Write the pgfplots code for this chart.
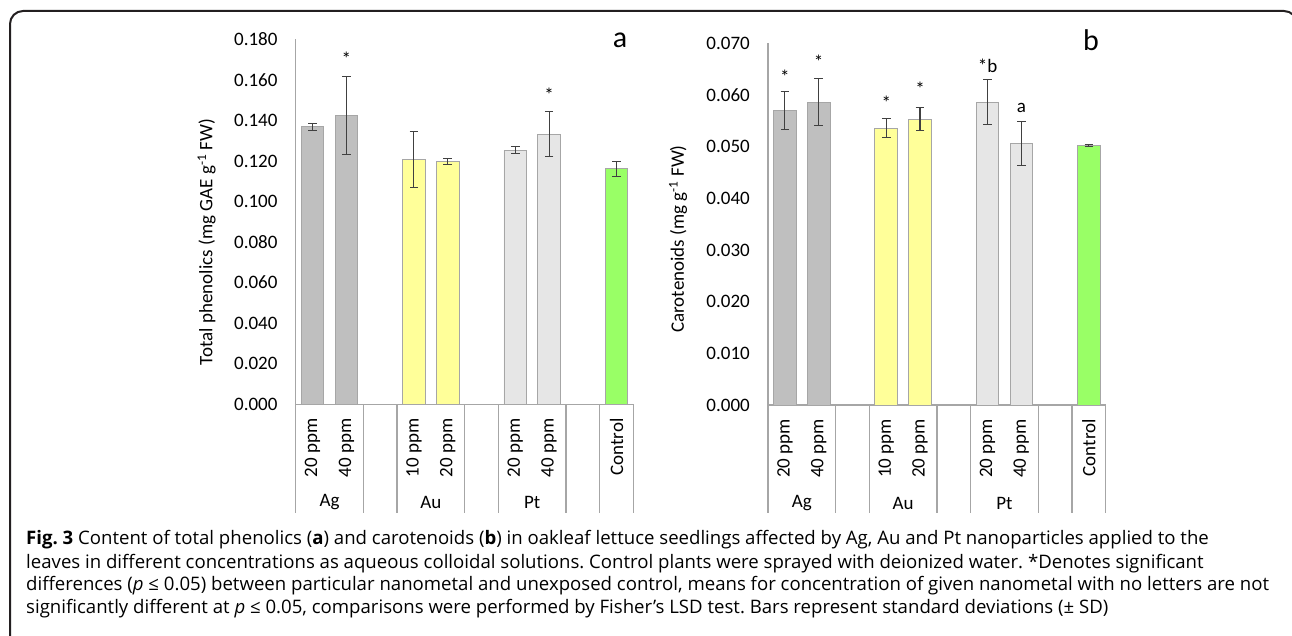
\documentclass[border=0pt]{standalone}
\usepackage{pgfplots}
\usepackage{pgfplotstable}
\pgfplotsset{compat=1.18}
\usepackage{fontspec}
\setmainfont{Carlito}
\newfontfamily\capfont{Open Sans}
\definecolor{agc}{HTML}{BFBFBF}
\definecolor{auc}{HTML}{FFFF99}
\definecolor{ptc}{HTML}{E6E6E6}
\definecolor{ctc}{HTML}{99FF66}
\definecolor{edge}{HTML}{A6A6A6}
\definecolor{errc}{HTML}{404040}
\definecolor{axc}{HTML}{A6A6A6}
\definecolor{framec}{HTML}{231F20}

% Panel a: total phenolics
\pgfplotstableread{
x y e
0 0.1368 0.0016
1 0.1425 0.0192
}\agA
\pgfplotstableread{
x y e
3 0.1208 0.0138
4 0.1198 0.0016
}\auA
\pgfplotstableread{
x y e
6 0.1254 0.0018
7 0.1332 0.0110
}\ptA
\pgfplotstableread{
x y e
9 0.1161 0.0038
}\ctA
% Panel b: carotenoids
\pgfplotstableread{
x y e
0 0.0570 0.0037
1 0.0586 0.0045
}\agB
\pgfplotstableread{
x y e
3 0.0536 0.0018
4 0.0553 0.0022
}\auB
\pgfplotstableread{
x y e
6 0.0586 0.0044
7 0.0506 0.0042
}\ptB
\pgfplotstableread{
x y e
9 0.0503 0.0002
}\ctB

\newcommand{\fs}{\fontsize{19}{22}\selectfont}
\newcommand{\cf}{\capfont\fontsize{18.6}{22}\selectfont}
\pgfplotsset{
  panel/.style={
    scale only axis, width=337.8pt,
    xmin=-0.5, xmax=9.5, ymin=0,
    axis x line*=bottom, axis y line*=left,
    axis line style={axc, line width=1.3pt},
    major tick length=0pt,
    xtick={0,1,3,4,6,7,9},
    xticklabels={20 ppm,40 ppm,10 ppm,20 ppm,20 ppm,40 ppm,Control},
    xticklabel style={rotate=90, anchor=east, inner sep=0pt, font=\fs},
    xticklabel shift=14pt,
    scaled y ticks=false,
    yticklabel style={inner sep=0pt, font=\fs,
      /pgf/number format/fixed, /pgf/number format/fixed zerofill,
      /pgf/number format/precision=3},
    yticklabel shift=18pt,
    /pgf/number format/assume math mode=true,
    ylabel style={font=\fs, anchor=center},
    clip=false,
  },
  bars/.style={ybar, bar width=0.67, bar shift=0pt, draw=edge, line width=0.9pt,
    error bars/y dir=both, error bars/y explicit,
    error bars/error bar style={errc, line width=1.1pt},
    error bars/error mark options={rotate=90, errc, mark size=4.3pt, line width=1.1pt}},
}

\begin{document}
\frenchspacing
\begin{tikzpicture}
\useasboundingbox (0,0) rectangle (1292pt,636pt);
\draw[framec, line width=2pt, rounded corners=13pt] (10pt,-40pt) -- (10pt,625pt) -- (1297pt,625pt) -- (1297pt,-40pt);

% ---------------- Panel a ----------------
\begin{axis}[panel, at={(295.7pt,231.7pt)}, anchor=south west,
  height=365pt, ymax=0.18, ytick distance=0.02,
  ylabel={Total phenolics (mg GAE g\textsuperscript{-1} FW)},
  ylabel style={at={(axis description cs:-0.2635,0.4447)}}]
\addplot[bars, fill=agc] table[x=x, y=y, y error=e]{\agA};
\addplot[bars, fill=auc] table[x=x, y=y, y error=e]{\auA};
\addplot[bars, fill=ptc] table[x=x, y=y, y error=e]{\ptA};
\addplot[bars, fill=ctc] table[x=x, y=y, y error=e]{\ctA};
\pgfplotsinvokeforeach{-0.5,1.5,2.5,4.5,5.5,7.5,8.5,9.5}{
  \draw[axc, line width=1.3pt] (axis cs:#1,0) -- ++(0pt,-108.5pt);
}
\node[font=\fs] at ([yshift=-98.2pt]axis cs:0.5,0) {Ag};
\node[font=\fs] at ([yshift=-98.2pt]axis cs:3.5,0) {Au};
\node[font=\fs] at ([yshift=-98.2pt]axis cs:6.5,0) {Pt};
\node[font=\fs, anchor=base] at (axis cs:1,0.1671) {*};
\node[font=\fs, anchor=base] at (axis cs:7,0.1492) {*};
\node[font=\fontsize{30}{34}\selectfont, anchor=base] at (axis cs:9.1,0.1759) {a};
\end{axis}

% ---------------- Panel b ----------------
\begin{axis}[panel, at={(768pt,231pt)}, anchor=south west,
  height=361.7pt, ymax=0.07, ytick distance=0.01,
  ylabel={Carotenoids (mg g\textsuperscript{-1} FW)},
  ylabel style={at={(axis description cs:-0.2663,0.459)}}]
\addplot[bars, fill=agc] table[x=x, y=y, y error=e]{\agB};
\addplot[bars, fill=auc] table[x=x, y=y, y error=e]{\auB};
\addplot[bars, fill=ptc] table[x=x, y=y, y error=e]{\ptB};
\addplot[bars, fill=ctc] table[x=x, y=y, y error=e]{\ctB};
\pgfplotsinvokeforeach{-0.5,1.5,2.5,4.5,5.5,7.5,8.5,9.5}{
  \draw[axc, line width=1.3pt] (axis cs:#1,0) -- ++(0pt,-108.5pt);
}
\node[font=\fs] at ([yshift=-98.2pt]axis cs:0.5,0) {Ag};
\node[font=\fs] at ([yshift=-98.2pt]axis cs:3.5,0) {Au};
\node[font=\fs] at ([yshift=-98.2pt]axis cs:6.5,0) {Pt};
\node[font=\fs, anchor=base] at (axis cs:0,0.06222) {*};
\node[font=\fs, anchor=base] at (axis cs:1,0.06513) {*};
\node[font=\fs, anchor=base] at (axis cs:3,0.05725) {*};
\node[font=\fs, anchor=base] at (axis cs:4,0.05984) {*};
\node[font=\fs, anchor=base] at (axis cs:6,0.06431) {*b};
\node[font=\fs, anchor=base] at (axis cs:7,0.05665) {a};
\node[font=\fontsize{30}{34}\selectfont, anchor=base] at (axis cs:9.06,0.06857) {b};
\end{axis}

% ---------------- Caption ----------------
\begin{scope}[every node/.style={anchor=base west, inner sep=0pt}]
\node at (26pt,91pt) {\cf\textbf{Fig. 3} Content of total phenolics (\textbf{a}) and carotenoids (\textbf{b}) in oakleaf lettuce seedlings affected by Ag, Au and Pt nanoparticles applied to the};
\node at (26pt,67.7pt) {\cf leaves in different concentrations as aqueous colloidal solutions. Control plants were sprayed with deionized water. *Denotes significant};
\node at (26pt,45.3pt) {\cf differences (\textit{p} ≤ 0.05) between particular nanometal and unexposed control, means for concentration of given nanometal with no letters are not};
\node at (26pt,22.7pt) {\cf significantly different at \textit{p} ≤ 0.05, comparisons were performed by Fisher’s LSD test. Bars represent standard deviations (± SD)};
\end{scope}
\end{tikzpicture}
\end{document}
